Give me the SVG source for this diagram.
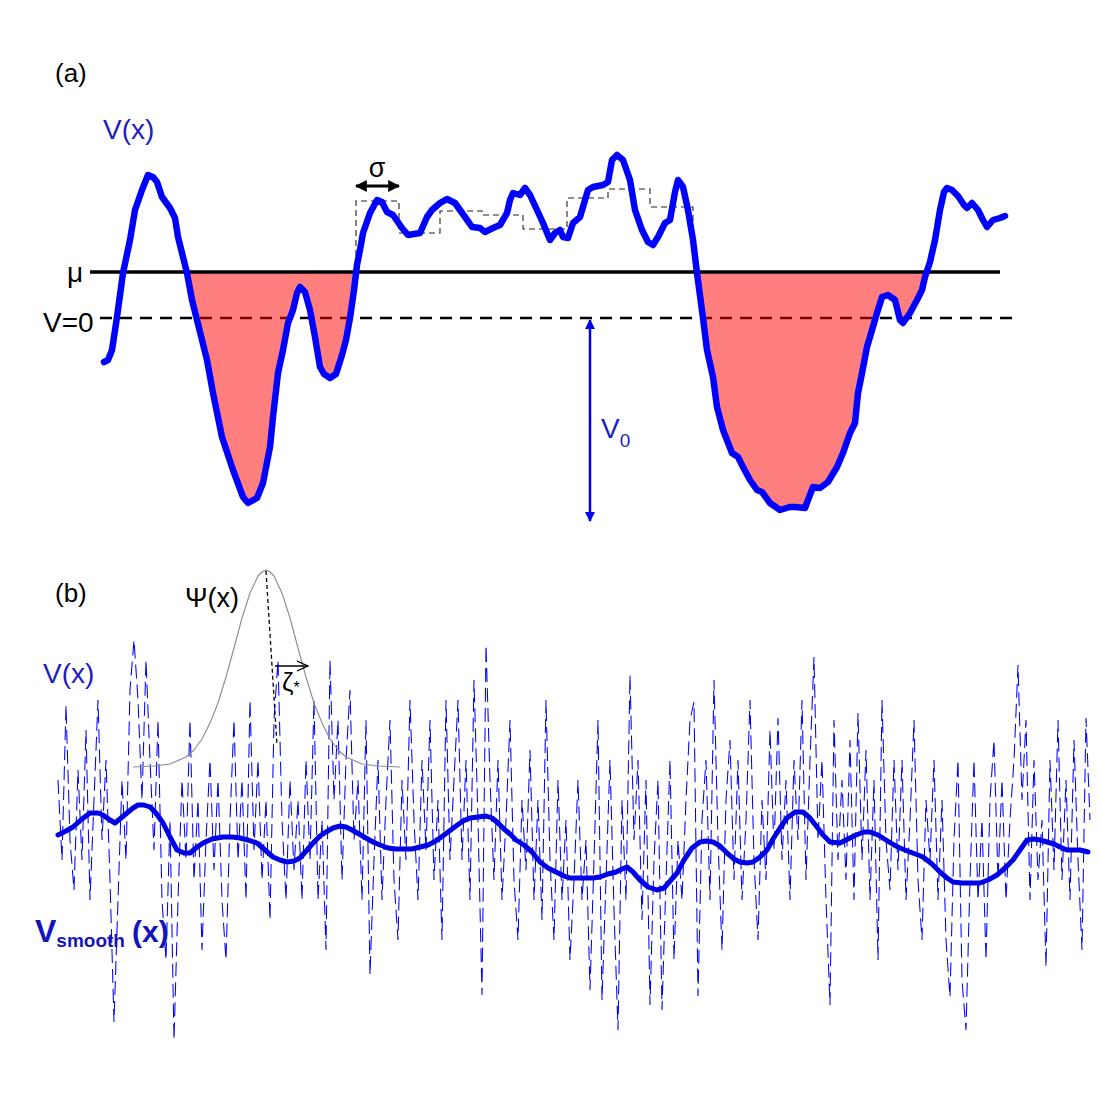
<svg xmlns="http://www.w3.org/2000/svg" width="1100" height="1100" viewBox="0 0 1100 1100">
<style>
.lbl{font-family:"Liberation Sans",Arial,sans-serif;fill:#000}
.blu{fill:#1e1ec0}
.curve{fill:none;stroke:#0000ff;stroke-width:6.5;stroke-linejoin:round;stroke-linecap:round}
.smooth{fill:none;stroke:#0000e6;stroke-width:5;stroke-linejoin:round;stroke-linecap:round}
.noise{fill:none;stroke:#0000ff;stroke-width:1.05;stroke-dasharray:14,6}
.well{fill:#ff0000;fill-opacity:0.5;stroke:none}
.step{fill:none;stroke:#222;stroke-width:1.1;stroke-dasharray:6,4}
</style>
<defs>
<marker id="ahB" viewBox="0 0 10 10" refX="9" refY="5" markerWidth="4" markerHeight="4" orient="auto-start-reverse"><path d="M0,0 L10,5 L0,10 Z" fill="#000"/></marker>
<marker id="ahBlue" viewBox="0 0 10 10" refX="9" refY="5" markerWidth="4.5" markerHeight="4" orient="auto-start-reverse"><path d="M0,0 L10,5 L0,10 Z" fill="#0000ee"/></marker>
<marker id="ahOpen" viewBox="0 0 12 12" refX="11" refY="6" markerWidth="12" markerHeight="12" markerUnits="userSpaceOnUse" orient="auto"><path d="M0,1 L11,6 L0,11" fill="none" stroke="#000" stroke-width="1.2"/></marker>
</defs>

<g id="panel-a">
<text class="lbl" x="55" y="82" font-size="26">(a)</text>
<text class="lbl blu" x="103" y="139" font-size="28">V(x)</text>
<text class="lbl" x="67" y="282" font-size="28">μ</text>
<text class="lbl" x="43" y="332" font-size="28">V=0</text>

<line id="v0-line" x1="100" y1="318" x2="1012" y2="318" stroke="#000" stroke-width="2.6" stroke-dasharray="12,8"/>

<polygon class="well" points="187,273 192,300 197,320 207,360 213,393 222,437 233,470 243,497 248,503 257,498 263,483 270,447 273,417 278,373 283,350 288,323 293,310 297,293 300,287 305,292 310,310 315,337 320,367 324,374 330,378 336,374 342,355 346,340 350,318 354,290 357,273"/>
<polygon class="well" points="697,273 703,318 707,350 713,377 717,407 723,430 732,453 738,457 743,467 750,480 757,490 762,492 770,503 780,510 790,507 795,507 805,508 808,500 813,487 820,488 828,482 837,467 843,453 850,433 855,423 858,393 862,373 867,347 872,330 877,313 882,297 888,295 895,300 900,320 903,323 910,313 917,300 922,290 925,277 927,273"/>

<line id="mu-line" x1="90" y1="272" x2="1000" y2="272" stroke="#000" stroke-width="3.5"/>

<polyline class="step" points="356,256 356,201 399,201 399,233 440,233 440,211 482,211 482,215 523,215 523,229 567,229 567,198 608,198 608,189 650,189 650,207 693,207 693,262"/>

<polyline class="curve" points="104,362 108,360 112,350 117,317 120,295 123,273 130,240 135,210 142,190 148,175 153,177 157,182 162,197 170,208 175,218 178,237 183,257 187,273 192,300 197,320 207,360 213,393 222,437 233,470 243,497 248,503 257,498 263,483 270,447 273,417 278,373 283,350 288,323 293,310 297,293 300,287 305,292 310,310 315,337 320,367 324,374 330,378 336,374 342,355 346,340 350,318 354,290 357,265 360,250 363,233 370,213 377,200 382,202 387,212 393,215 402,228 408,235 420,233 427,217 432,210 440,203 447,199 455,203 465,217 472,227 480,228 485,232 493,228 500,225 507,213 510,200 513,193 520,195 525,188 530,195 537,210 543,223 550,240 555,233 560,230 563,237 568,238 573,223 580,217 588,190 593,187 603,185 608,182 612,160 617,155 623,160 630,180 635,210 642,230 648,242 653,245 658,237 665,223 670,220 675,192 678,180 683,187 688,210 693,240 697,273 703,318 707,350 713,377 717,407 723,430 732,453 738,457 743,467 750,480 757,490 762,492 770,503 780,510 790,507 795,507 805,508 808,500 813,487 820,488 828,482 837,467 843,453 850,433 855,423 858,393 862,373 867,347 872,330 877,313 882,297 888,295 895,300 900,320 903,323 910,313 917,300 922,290 925,277 930,262 935,240 940,210 944,192 947,188 952,190 958,196 964,205 967,208 972,203 978,210 983,220 987,227 993,220 1000,218 1005,216"/>

<g id="sigma">
<line x1="356" y1="186" x2="399" y2="186" stroke="#000" stroke-width="3" marker-start="url(#ahB)" marker-end="url(#ahB)"/>
<text class="lbl" x="377" y="177" font-size="27" text-anchor="middle">σ</text>
</g>

<g id="v0">
<line x1="590" y1="320" x2="590" y2="521" stroke="#0000ee" stroke-width="2.5" marker-start="url(#ahBlue)" marker-end="url(#ahBlue)"/>
<text class="lbl blu" x="601" y="438" font-size="28">V<tspan font-size="19" dy="9">0</tspan></text>
</g>
</g>

<g id="panel-b">
<text class="lbl" x="55" y="602" font-size="26">(b)</text>
<text class="lbl" x="185" y="607" font-size="27">Ψ(x)</text>
<text class="lbl blu" x="43" y="683" font-size="28">V(x)</text>

<polyline class="noise" points="58,780 62,860 66,705 70,840 74,890 78,770 82,860 86,730 90,900 94,800 98,700 102,840 106,760 110,880 114,1022 118,900 122,780 126,860 130,690 134,640 138,700 142,800 146,660 150,760 154,850 158,720 162,900 166,960 170,820 174,1040 178,900 182,780 186,860 190,720 194,880 198,800 202,950 206,840 210,760 214,870 218,780 222,900 226,960 230,820 234,720 238,860 242,780 246,900 250,700 254,850 258,760 262,880 266,800 270,920 274,720 278,660 282,820 286,900 290,780 294,870 298,800 302,900 306,760 310,860 314,700 318,900 322,820 326,950 330,660 334,800 338,720 342,880 346,760 350,690 354,840 358,780 362,900 366,720 370,975 374,860 378,760 382,900 386,800 390,720 394,880 398,940 402,780 406,860 410,700 414,820 418,900 422,760 426,850 430,720 434,880 438,800 442,940 446,700 450,860 454,780 458,700 462,860 466,760 470,900 474,680 478,820 482,995 486,645 490,780 494,880 498,760 502,900 506,820 510,720 514,880 518,940 522,800 526,870 530,750 534,900 538,800 542,920 546,700 550,860 554,940 558,780 562,900 566,820 570,960 574,880 578,780 582,900 586,840 590,990 594,860 598,720 602,1000 606,880 610,760 614,910 618,1030 622,800 626,900 630,675 634,840 638,760 642,920 646,780 650,1005 654,860 658,780 662,1010 666,880 670,760 674,960 678,840 682,900 686,800 690,720 694,702 698,996 702,820 706,760 710,900 714,680 718,840 722,950 726,800 730,740 734,880 738,760 742,900 746,820 750,700 754,860 758,940 762,800 766,880 770,730 774,850 778,718 782,860 786,780 790,900 794,760 798,840 802,700 806,880 810,760 814,657 818,840 822,760 826,900 830,1005 834,720 838,860 842,780 846,880 850,740 854,900 858,713 862,860 866,750 870,900 874,780 878,960 882,700 886,840 890,890 894,760 898,870 902,760 906,900 910,820 914,720 918,880 922,940 926,800 930,860 934,760 938,900 942,800 946,940 950,997 954,840 958,760 962,980 966,1030 970,880 974,760 978,900 982,820 986,960 990,800 994,740 998,880 1002,780 1006,900 1010,820 1014,760 1018,665 1022,800 1026,720 1030,900 1034,760 1038,880 1042,820 1046,967 1050,760 1054,870 1058,720 1062,880 1066,780 1070,900 1074,740 1078,860 1082,950 1086,718 1090,820"/>

<polyline id="psi" fill="none" stroke="#8a8a8a" stroke-width="1.1" stroke-linejoin="round" points="133,767 154,766 170,764 186,757 194,750 202,739 210,723 218,703 226,677 234,648 242,618 250,593 258,576 262,572 266,570 270,572 274,576 282,593 290,618 298,648 306,677 314,703 322,723 330,739 338,750 346,757 362,764 378,766 400,767"/>
<line x1="266" y1="571" x2="277" y2="745" stroke="#000" stroke-width="1.3" stroke-dasharray="4,3"/>
<g id="zeta">
<line x1="275" y1="666" x2="308" y2="666" stroke="#000" stroke-width="1.3" marker-end="url(#ahOpen)"/>
<text class="lbl" x="282" y="691" font-size="26">ζ<tspan font-size="16" dy="2">*</tspan></text>
</g>

<polyline class="smooth" points="58,835 66,831 73,827 82,819 90,813 98,813 103,815 110,820 115,823 121,818 127,813 133,808 138,805 144,805 150,807 156,813 163,823 170,837 177,850 184,853 190,853 196,848 203,843 212,839 223,837 232,837 240,838 248,840 257,843 265,850 273,857 280,860 287,862 294,861 300,858 307,850 314,842 320,836 326,832 333,828 340,826 346,827 352,830 359,834 366,838 373,842 380,845 388,848 396,849 404,849 412,849 420,847 428,845 434,842 440,838 448,832 456,826 463,821 470,818 478,817 486,816 492,818 498,823 504,829 510,834 516,840 524,845 532,852 540,862 548,868 556,872 564,876 570,878 578,878 586,878 593,878 600,877 608,874 616,872 622,869 627,867 633,872 640,880 648,887 657,890 664,888 671,880 677,873 684,860 692,848 700,842 706,841 713,842 720,846 727,853 734,859 740,862 747,863 753,862 760,857 767,850 773,839 780,828 787,818 795,812 803,812 810,818 817,827 823,835 830,842 840,843 848,839 856,835 864,832 870,832 878,835 886,840 894,845 900,848 910,852 918,855 923,857 932,864 940,872 947,878 953,882 962,883 972,883 980,883 988,880 997,875 1005,868 1013,860 1020,850 1027,840 1034,839 1040,840 1047,842 1054,844 1060,847 1067,850 1074,850 1080,850 1088,852"/>

<text class="lbl" x="35" y="942" font-size="32" font-weight="bold" style="fill:#1414b8">V<tspan font-size="19" dy="5">smooth</tspan><tspan font-size="30" dy="-5" dx="7">(x)</tspan></text>
</g>
</svg>
